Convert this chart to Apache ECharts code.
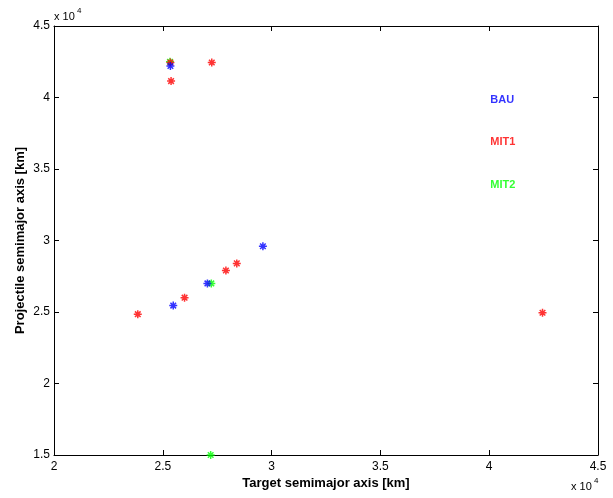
<!DOCTYPE html>
<html>
<head>
<meta charset="utf-8">
<script src="https://cdn.jsdelivr.net/npm/echarts@6/dist/echarts.min.js"></script>
<style>
  html, body { margin: 0; padding: 0; background: #fff; }
  #chart { width: 613px; height: 498px; }
</style>
</head>
<body>
<div id="chart"></div>
<script>
// Semimajor axes in km: [target, projectile]
const bauPoints = [
  [25350, 42200],
  [25480, 25450],
  [27050, 27000],
  [29600, 29600]
];
const mit1Points = [
  [25350, 42450],
  [27250, 42450],
  [25380, 41150],
  [23850, 24850],
  [26000, 26000],
  [27900, 27900],
  [28400, 28400],
  [42450, 24950]
];
const mit2Points = [
  [25330, 42500],
  [27230, 27000],
  [27200, 15000]
];

// Scenario labels placed in data space
const scenarioNames = ['BAU', 'MIT1', 'MIT2'];
const scenarioColors = ['#0000ff', '#ff0000', '#00ff00'];
const scenarioLabelPos = [[40050, 39850], [40050, 36900], [40050, 33900]];

const xRange = [20000, 45000];
const yRange = [15000, 45000];
const tickStep = 5000;

const FONT = '"Liberation Sans", Arial, Helvetica, sans-serif';
const star = 'path://M0,-10L0,10M-10,0L10,0M-7,-7L7,7M-7,7L7,-7';

function starSeries(name, data, color) {
  return {
    name: name,
    type: 'scatter',
    data: data,
    symbol: star,
    symbolSize: 8,
    itemStyle: { color: color, borderColor: color, borderWidth: 1.5 },
    emphasis: { disabled: true },
    z: 3
  };
}

const chart = echarts.init(document.getElementById('chart'), null, { renderer: 'canvas' });

const axisCommon = {
  type: 'value',
  interval: tickStep,
  splitLine: { show: false },
  axisLine: { show: true, onZero: false, lineStyle: { color: '#000', width: 1 } },
  axisTick: { show: true, inside: true, length: 5, lineStyle: { color: '#000' } }
};

chart.setOption({
  animation: false,
  backgroundColor: '#fff',
  grid: { left: 54, right: 15, top: 26, bottom: 43 },
  xAxis: [
    Object.assign({}, axisCommon, {
      position: 'bottom',
      min: xRange[0], max: xRange[1],
      axisLabel: {
        color: '#000', fontFamily: FONT, fontSize: 12, margin: 6,
        formatter: v => String(v / 10000)
      },
      name: 'Target semimajor axis [km]',
      nameLocation: 'middle',
      nameGap: 22,
      nameMoveOverlap: false,
      nameTextStyle: { color: '#000', fontFamily: FONT, fontSize: 13, fontWeight: 'bold' }
    }),
    Object.assign({}, axisCommon, {
      position: 'top',
      min: xRange[0], max: xRange[1],
      axisLabel: { show: false }
    })
  ],
  yAxis: [
    Object.assign({}, axisCommon, {
      position: 'left',
      min: yRange[0], max: yRange[1],
      axisLabel: {
        color: '#000', fontFamily: FONT, fontSize: 12, margin: 4,
        formatter: v => String(v / 10000)
      },
      name: 'Projectile semimajor axis [km]',
      nameLocation: 'middle',
      nameGap: 27,
      nameMoveOverlap: false,
      nameTextStyle: { color: '#000', fontFamily: FONT, fontSize: 13, fontWeight: 'bold' }
    }),
    Object.assign({}, axisCommon, {
      position: 'right',
      min: yRange[0], max: yRange[1],
      axisLabel: { show: false }
    })
  ],
  series: [
    starSeries('MIT2', mit2Points, scenarioColors[2]),
    starSeries('MIT1', mit1Points, scenarioColors[1]),
    starSeries('BAU', bauPoints, scenarioColors[0]),
    {
      name: 'scenario labels',
      type: 'scatter',
      symbolSize: 0,
      silent: true,
      data: scenarioNames.map((n, i) => ({
        value: scenarioLabelPos[i],
        name: n,
        label: { color: scenarioColors[i] }
      })),
      label: {
        show: true,
        position: 'right',
        distance: 0,
        formatter: p => p.name,
        fontFamily: FONT,
        fontSize: 11,
        fontWeight: 'bold',
        align: 'left',
        verticalAlign: 'middle'
      },
      z: 4
    }
  ],
  graphic: [
    // exponent marks for both axes
    { type: 'text', left: 54, top: 11, style: { text: 'x 10', font: '11px ' + FONT, fill: '#000' } },
    { type: 'text', left: 77, top: 7, style: { text: '4', font: '8px ' + FONT, fill: '#000' } },
    { type: 'text', left: 571, top: 481, style: { text: 'x 10', font: '11px ' + FONT, fill: '#000' } },
    { type: 'text', left: 594, top: 477, style: { text: '4', font: '8px ' + FONT, fill: '#000' } }
  ]
});
</script>
</body>
</html>
